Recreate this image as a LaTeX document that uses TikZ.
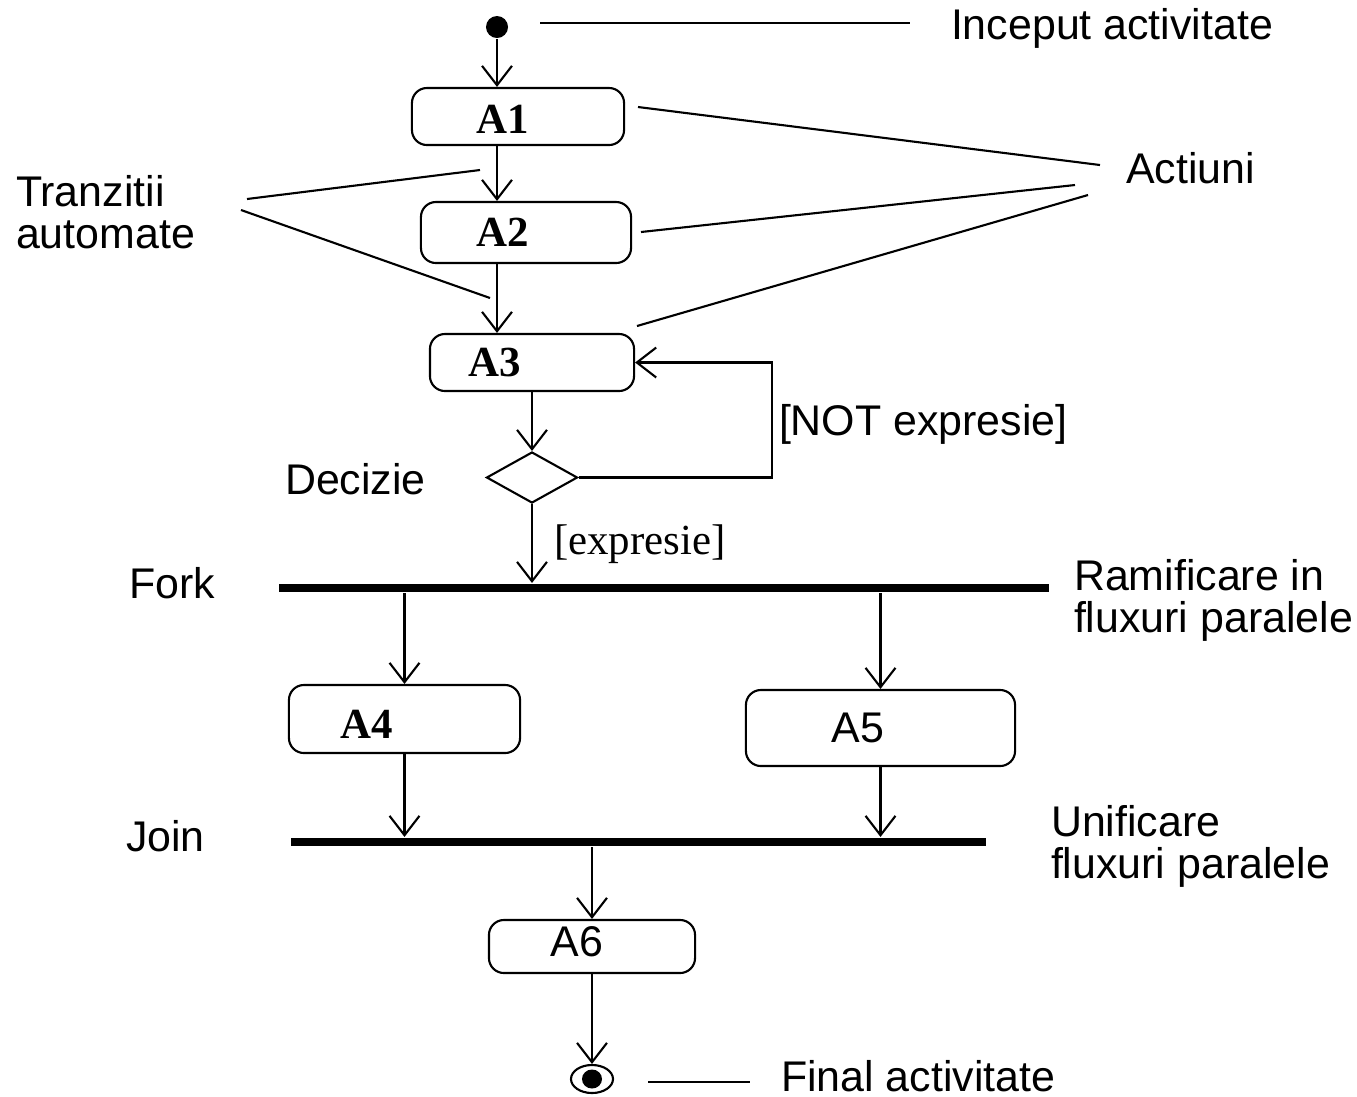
\documentclass[tikz,border=0pt]{standalone}
\usepackage{fontspec}
\setmainfont{Liberation Serif}
\setsansfont{Liberation Sans}
\usetikzlibrary{shapes.geometric,arrows.meta,positioning}

\begin{document}
\begin{tikzpicture}[x=0.01cm, y=-0.01cm, line width=0.6pt,
   >={Straight Barb[length=5.5pt,width=8.5pt]},
   actiune/.style={draw, rectangle, rounded corners=0.15cm, inner sep=0pt},
   numeA/.style={font=\fontsize{12.2}{14}\selectfont\bfseries},
   numeB/.style={font=\sffamily\fontsize{12.2}{14}\selectfont},
   bara/.style={fill=black, rectangle, inner sep=0pt, minimum height=0.08cm},
   eticheta/.style={font=\sffamily\fontsize{12.2}{11.7}\selectfont, anchor=base west, align=left, inner sep=0pt}]
   \useasboundingbox (0,0) rectangle (1357,1096);
   % stari initiala / finala si decizia
   \node[circle, fill=black, inner sep=0pt, minimum size=0.22cm] (start) at (497,27) {};
   \node[ellipse, draw, inner sep=0pt, minimum width=0.42cm, minimum height=0.28cm] (final) at (592,1079) {};
   \fill (final.center) ellipse [x radius=0.1cm, y radius=0.095cm];
   \node[diamond, draw, aspect=1.8, inner sep=0pt, minimum width=0.91cm, minimum height=0.51cm] (dec) at (532,477.5) {};
   % actiunile
   \node[actiune, minimum width=2.12cm, minimum height=0.57cm, label={[numeA, xshift=-0.15cm, yshift=-0.03cm]center:A1}] (a1) at (518,116.5) {};
   \node[actiune, minimum width=2.10cm, minimum height=0.61cm, label={[numeA, xshift=-0.23cm]center:A2}] (a2) at (526,232.5) {};
   \node[actiune, minimum width=2.04cm, minimum height=0.57cm, label={[numeA, xshift=-0.37cm]center:A3}] (a3) at (532,362.5) {};
   \node[actiune, minimum width=2.31cm, minimum height=0.68cm, label={[numeA, xshift=-0.375cm, yshift=-0.05cm]center:A4}] (a4) at (404.5,719) {};
   \node[actiune, minimum width=2.69cm, minimum height=0.76cm, label={[numeB, xshift=-0.225cm]center:A5}] (a5) at (880.5,728) {};
   \node[actiune, minimum width=2.06cm, minimum height=0.53cm, label={[numeB, xshift=-0.15cm, yshift=0.045cm]center:A6}] (a6) at (592,946.5) {};
   % fork si join
   \node[bara, minimum width=7.70cm] (fork) at (664,588) {};
   \node[bara, minimum width=6.95cm] (join) at (638.5,842) {};
   % tranzitii
   \draw[->] (start) -- (start |- a1.north);
   \draw[->] (start |- a1.south) -- (start |- a2.north);
   \draw[->] (start |- a2.south) -- (start |- a3.north);
   \draw[->] (a3.south) -- (dec.north);
   \draw[->] (dec.east) -- ++(193,0) |- (a3.east);
   \draw[->] (dec.south) -- (dec.south |- fork.north);
   \draw[->] (a4.north |- fork.south) -- (a4.north);
   \draw[->] (a5.north |- fork.south) -- (a5.north);
   \draw[->] (a4.south) -- (a4.south |- join.north);
   \draw[->] (a5.south) -- (a5.south |- join.north);
   \draw[->] (a6.north |- join.south) -- (a6.north);
   \draw[->] (a6.south) -- (final.north);
   % texte
   \node[anchor=base west, inner sep=0pt, font=\fontsize{12.2}{14}\selectfont] (expr) at (553,554) {[expresie]};
   \node[eticheta] (notexpr) at (778,435) {[NOT expresie]};
   \node[eticheta] (decizie) at (284,494) {Decizie};
   \node[eticheta] (inceput) at (950,39) {Inceput activitate};
   \node[eticheta] (actiuni) at (1125,183) {Actiuni};
   \node[eticheta] (tranz) at (15,248) {Tranzitii\\automate};
   \node[eticheta] (forklbl) at (128,598) {Fork};
   \node[eticheta] (ramif) at (1073,632) {Ramificare in\\fluxuri paralele};
   \node[eticheta] (joinlbl) at (125,851) {Join};
   \node[eticheta] (unif) at (1050,878) {Unificare\\fluxuri paralele};
   \node[eticheta] (finlbl) at (780,1091) {Final activitate};
   % linii de adnotare
   \coordinate (i1) at (540,23);  \coordinate (i2) at (910,23);
   \coordinate (c1) at (638,107); \coordinate (c2) at (1100,165);
   \coordinate (c3) at (641,232); \coordinate (c4) at (1075,185);
   \coordinate (c5) at (637,326); \coordinate (c6) at (1088,195);
   \coordinate (t1) at (247,199); \coordinate (t2) at (480,170);
   \coordinate (t3) at (241,210); \coordinate (t4) at (490,298);
   \coordinate (f1) at (648,1082); \coordinate (f2) at (750,1082);
   \draw (i1) -- (i2);
   \draw (c1) -- (c2);
   \draw (c3) -- (c4);
   \draw (c5) -- (c6);
   \draw (t1) -- (t2);
   \draw (t3) -- (t4);
   \draw (f1) -- (f2);
\end{tikzpicture}
\end{document}
